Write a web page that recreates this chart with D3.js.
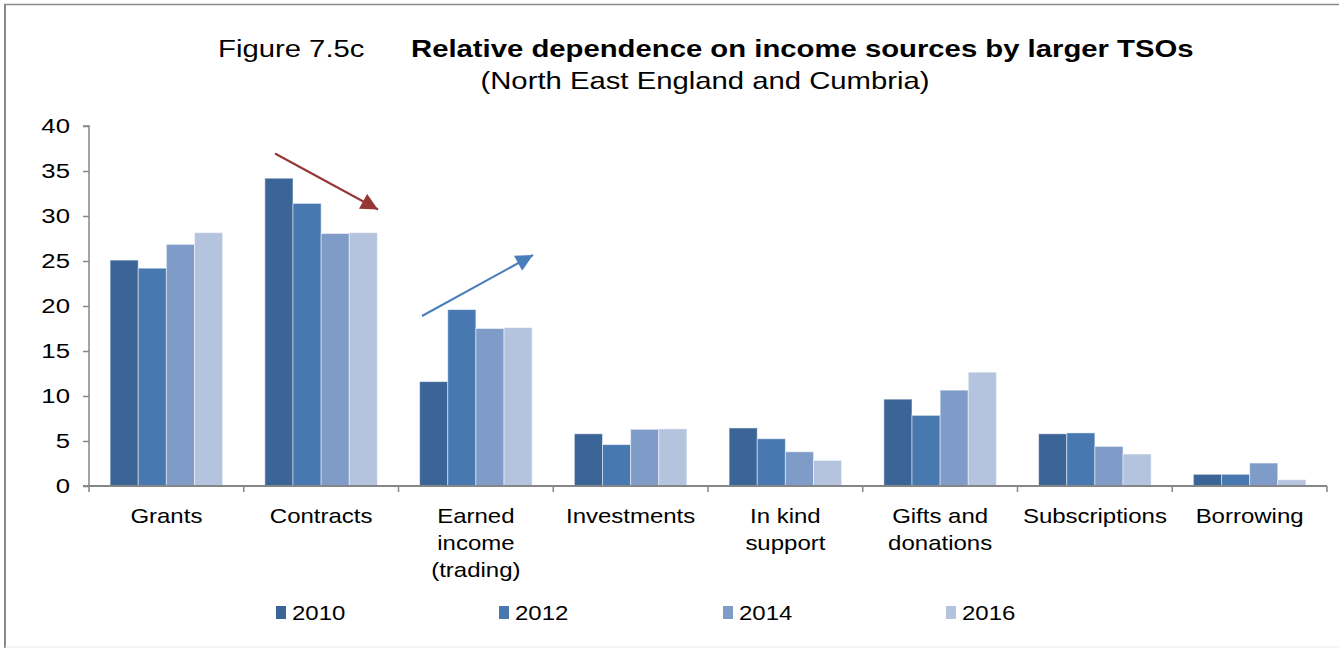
<!DOCTYPE html>
<html><head><meta charset="utf-8">
<script src="https://cdn.jsdelivr.net/npm/d3@7/dist/d3.min.js"></script>
<style>body{margin:0;background:#fff}svg{display:block;font-family:"Liberation Sans",Arial,sans-serif}</style>
</head><body>
<script>
const categories = ["Grants","Contracts","Earned income (trading)","Investments","In kind support","Gifts and donations","Subscriptions","Borrowing"];
const categoryLines = [["Grants"],["Contracts"],["Earned","income","(trading)"],["Investments"],["In kind","support"],["Gifts and","donations"],["Subscriptions"],["Borrowing"]];
const years = ["2010","2012","2014","2016"];
const v2010 = [25.1, 34.2, 11.6, 5.8, 6.45, 9.65, 5.8, 1.3];
const v2012 = [24.2, 31.4, 19.6, 4.6, 5.25, 7.85, 5.9, 1.3];
const v2014 = [26.85, 28.05, 17.5, 6.3, 3.8, 10.65, 4.4, 2.55];
const v2016 = [28.15, 28.15, 17.6, 6.35, 2.85, 12.65, 3.55, 0.7];
const yTicks = [0,5,10,15,20,25,30,35,40];
const colors = ["#3C6597","#4878B0","#7F9CC8","#B5C4DE"];
const series = [v2010, v2012, v2014, v2016];

const W = 1339, H = 648;
const svg = d3.select("body").append("svg").attr("width", W).attr("height", H);

// stretched text helper (reference text is horizontally widened)
function stext(parent, x, y, str, size, sx, opts = {}) {
  const g = parent.append("g").attr("transform", `translate(${x},${y}) scale(${sx},1)`);
  const t = g.append("text").attr("x", 0).attr("y", 0).attr("font-size", size).attr("fill", "#000")
    .attr("text-anchor", opts.anchor || "start");
  if (opts.bold) t.attr("font-weight", "bold");
  t.text(str);
  return t;
}

// frame
svg.append("line").attr("x1",4).attr("x2",W).attr("y1",4.5).attr("y2",4.5).attr("stroke","#8a8a8a").attr("stroke-width",1.5);
svg.append("line").attr("x1",5).attr("x2",5).attr("y1",4).attr("y2",H).attr("stroke","#8a8a8a").attr("stroke-width",2);
svg.append("line").attr("x1",5).attr("x2",W).attr("y1",647).attr("y2",647).attr("stroke","#e8e8e8").attr("stroke-width",1);

// title
stext(svg, 218, 57, "Figure 7.5c", 24, 1.22);
stext(svg, 411, 57, "Relative dependence on income sources by larger TSOs", 24, 1.22, {bold: true});
stext(svg, 705, 89, "(North East England and Cumbria)", 24, 1.22, {anchor: "middle"});

const x0 = 89, x1 = 1327, yTop = 126, yBot = 486;
const x = d3.scaleBand().domain(categories).range([x0, x1]).paddingInner(0).paddingOuter(0);
const y = d3.scaleLinear().domain([0, 40]).range([yBot, yTop]);
const bw = x.bandwidth();
const barW = bw / (4 + 1.5);

// bars
years.forEach((yr, si) => {
  svg.append("g").selectAll("rect").data(categories).join("rect")
    .attr("x", (c) => x(c) + 0.75*barW + si*barW)
    .attr("width", barW)
    .attr("y", (c,i) => y(series[si][i]))
    .attr("height", (c,i) => yBot - y(series[si][i]))
    .attr("fill", colors[si])
    .attr("stroke", "rgba(255,255,255,0.5)")
    .attr("stroke-width", 1);
});

// y axis
const yAxis = svg.append("g").attr("transform", `translate(${x0},0)`)
  .call(d3.axisLeft(y).tickValues(yTicks).tickSize(6).tickPadding(8));
yAxis.selectAll("text").attr("font-size",19.5).attr("fill","#000").attr("font-family","Liberation Sans, Arial, sans-serif")
  .attr("dy","0.35em").attr("x",0).attr("transform","translate(-19,0) scale(1.32,1)");
yAxis.selectAll("line").attr("stroke","#868686").attr("stroke-width",1.5);
yAxis.select(".domain").attr("stroke","#868686").attr("stroke-width",1.5).attr("d", `M-6,${yTop}H0V${yBot}`);

// x axis
const xAxis = svg.append("g").attr("transform", `translate(0,${yBot})`);
xAxis.append("line").attr("x1",x0-6).attr("x2",x1).attr("y1",0).attr("y2",0).attr("stroke","#868686").attr("stroke-width",2);
const tickPos = categories.map(c => x(c)).concat([x1]);
xAxis.selectAll("line.t").data(tickPos).join("line").attr("class","t")
  .attr("x1",d=>d).attr("x2",d=>d).attr("y1",0).attr("y2",6).attr("stroke","#868686").attr("stroke-width",1.5);
categories.forEach((c, i) => {
  categoryLines[i].forEach((ln, k) => {
    stext(svg, x(c) + bw/2, 523 + 27*k, ln, 20, 1.2, {anchor: "middle"});
  });
});

// arrows
const defs = svg.append("defs");
defs.append("marker").attr("id","ar").attr("viewBox","0 0 10 10").attr("refX",10).attr("refY",5)
  .attr("markerWidth",20).attr("markerHeight",17).attr("markerUnits","userSpaceOnUse").attr("orient","auto")
  .append("path").attr("d","M0,0L10,5L0,10Z").attr("fill","#953735");
defs.append("marker").attr("id","ab").attr("viewBox","0 0 10 10").attr("refX",10).attr("refY",5)
  .attr("markerWidth",20).attr("markerHeight",17).attr("markerUnits","userSpaceOnUse").attr("orient","auto")
  .append("path").attr("d","M0,0L10,5L0,10Z").attr("fill","#4A7EBB");
svg.append("line").attr("x1",275).attr("y1",153.5).attr("x2",378).attr("y2",209.5).attr("stroke","#953735").attr("stroke-width",2).attr("marker-end","url(#ar)");
svg.append("line").attr("x1",422).attr("y1",316).attr("x2",533).attr("y2",255).attr("stroke","#4A7EBB").attr("stroke-width",2).attr("marker-end","url(#ab)");

// legend
const lgX = [276, 499, 723, 946];
years.forEach((yr, i) => {
  svg.append("rect").attr("x", lgX[i]).attr("y", 606).attr("width", 10).attr("height", 13).attr("fill", colors[i]);
  stext(svg, lgX[i] + 16, 620, yr, 20, 1.2);
});
</script>
</body></html>
